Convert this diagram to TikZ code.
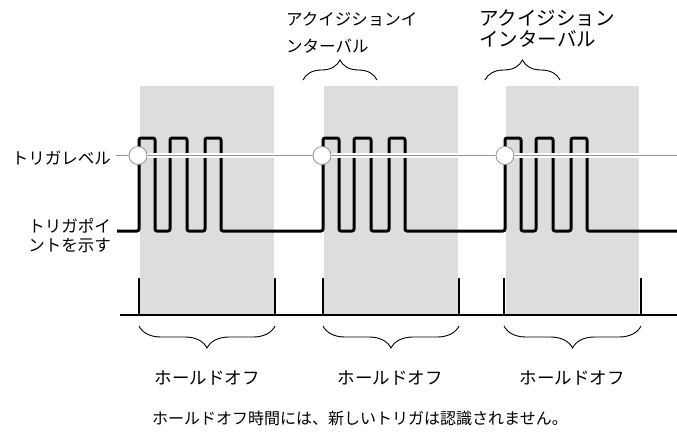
\documentclass[tikz,border=0pt]{standalone}
\usepackage{fontspec}
\setmainfont{Noto Sans CJK JP}
\usetikzlibrary{decorations.pathreplacing}
\definecolor{holdgray}{RGB}{220,221,223}
\definecolor{lvlgray}{RGB}{150,150,150}
\tikzset{
  lbl/.style={inner sep=0pt, font=\fontsize{16.5}{19}\selectfont},
  holdbox/.style={fill=holdgray, draw=none},
  sig/.style={line width=3pt, rounded corners=2pt, line join=round},
  tick/.style={line width=1.3pt},
  trig/.style={circle, minimum size=18pt, inner sep=0pt, fill=white, draw=lvlgray, line width=0.8pt},
  bracedown/.style={decorate, decoration={brace, amplitude=22pt}, line width=0.9pt},
  braceup/.style={decorate, decoration={brace, amplitude=20pt}, line width=0.9pt}
}
\begin{document}
\begin{tikzpicture}[x=1pt, y=-1pt]
\useasboundingbox (0,0) rectangle (677,432);
% hold-off shaded regions
\fill[holdbox] (140,86) rectangle (274,315);
\fill[holdbox] (324,86) rectangle (458,315);
\fill[holdbox] (506,86) rectangle (639,315);
% signal
\draw[sig] (117,231)
  -- (139,231) -- (139,138) -- (155,138) -- (155,231)
  -- (170,231) -- (170,138) -- (187,138) -- (187,231)
  -- (205,231) -- (205,138) -- (221,138) -- (221,231)
  -- (323,231) -- (323,138) -- (339,138) -- (339,231)
  -- (354,231) -- (354,138) -- (371,138) -- (371,231)
  -- (389,231) -- (389,138) -- (405,138) -- (405,231)
  -- (505,231) -- (505,138) -- (521,138) -- (521,231)
  -- (536,231) -- (536,138) -- (553,138) -- (553,231)
  -- (571,231) -- (571,138) -- (587,138) -- (587,231)
  -- (677,231);
% trigger level line
\coordinate (lvlA) at (116,155.5);
\coordinate (lvlB) at (677,155.5);
\draw[white, line width=5pt] (lvlA) -- (lvlB);
\draw[lvlgray, line width=1.3pt] (lvlA) -- (lvlB);
\node[trig] (t1) at (138,155.5) {};
\node[trig] (t2) at (322,155.5) {};
\node[trig] (t3) at (505,155.5) {};
% hold-off time axis
\coordinate (axA) at (120,315);
\coordinate (axB) at (677,315);
\draw[tick] (axA) -- (axB);
\foreach \x in {139,275,323,459,504,641}{
  \draw[tick] (\x,278) -- (\x,315);
}
% bottom braces
\draw[bracedown] (275,326) -- (139,326);
\draw[bracedown] (459,326) -- (323,326);
\draw[bracedown] (641,326) -- (504,326);
% top braces
\draw[braceup] (303,80) -- (377,80);
\draw[braceup] (485,80) -- (560,80);
% labels
\node[lbl, anchor=east] (trglevel) at (111,158) {トリガレベル};
\node[lbl, anchor=east, align=right] (trgpoint) at (111,235.5) {トリガポイ\\ントを示す};
\node[lbl, anchor=west, align=left, font=\fontsize{16.5}{27}\selectfont] (acq1) at (286,32.5) {アクイジションイ\\ンターバル};
\node[lbl, anchor=west, align=left, font=\fontsize{19.5}{21}\selectfont] (acq2) at (479,28.5) {アクイジション\\インターバル};
\node[lbl, font=\fontsize{17.5}{20}\selectfont] (ho1) at (207,378) {ホールドオフ};
\node[lbl, font=\fontsize{17.5}{20}\selectfont] (ho2) at (390,378) {ホールドオフ};
\node[lbl, font=\fontsize{17.5}{20}\selectfont] (ho3) at (572,378) {ホールドオフ};
\node[lbl, font=\fontsize{16}{19}\selectfont] (note) at (360,418) {ホールドオフ時間には、新しいトリガは認識されません。};
\end{tikzpicture}
\end{document}
